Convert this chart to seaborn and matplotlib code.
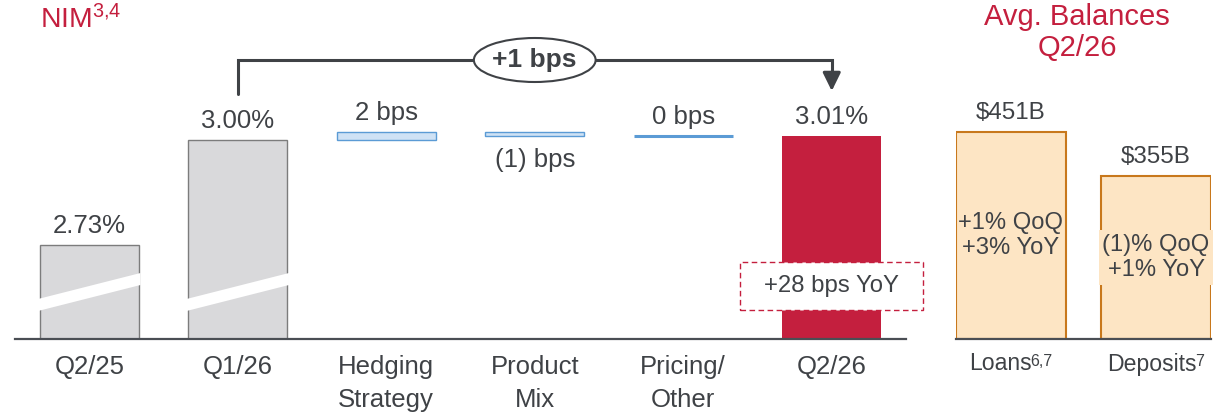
import matplotlib
matplotlib.use("Agg")
import matplotlib.pyplot as plt
import seaborn as sns
import pandas as pd
from matplotlib.patches import Ellipse, Rectangle, Polygon

sns.set_theme(style="white")
plt.rcParams["font.family"] = ["Liberation Sans", "DejaVu Sans"]
plt.rcParams["mathtext.fontset"] = "custom"
plt.rcParams["mathtext.rm"] = "Liberation Sans"
plt.rcParams["mathtext.it"] = "Liberation Sans:italic"
plt.rcParams["mathtext.bf"] = "Liberation Sans:bold"
plt.rcParams["mathtext.default"] = "regular"

# ---- NIM walk -------------------------------------------------------------
nim_categories = ["Q2/25", "Q1/26", "Hedging\nStrategy", "Product\nMix",
                  "Pricing/\nOther", "Q2/26"]
total_categories = ["Q2/25", "Q1/26", "Q2/26"]
total_values = [2.73, 3.00, 3.01]
total_labels = ["2.73%", "3.00%", "3.01%"]
step_categories = ["Hedging\nStrategy", "Product\nMix", "Pricing/\nOther"]
step_bps = [2, -1, 0]
step_labels = ["2 bps", "(1) bps", "0 bps"]
qoq_label = "+1 bps"
yoy_label = "+28 bps YoY"

# ---- Average balances -----------------------------------------------------
balance_categories = ["Loans", "Deposits"]
balance_footnotes = ["6,7", "7"]
balance_values = [451, 355]
balance_labels = ["$451B", "$355B"]
balance_growth = ["+1% QoQ\n+3% YoY", "(1)% QoQ\n+1% YoY"]
growth_boxed = [False, True]

# ---- Styling --------------------------------------------------------------
RED = "#C41F3E"
TEXT = "#3F4246"
GREY_FILL = "#D9D9DB"
GREY_EDGE = "#7C7C7C"
BLUE_FILL = "#CFE2F5"
BLUE_EDGE = "#5B9BD5"
ORANGE_FILL = "#FDE5C4"
ORANGE_EDGE = "#C8781C"
AXIS = "#4A4E54"

W, H = 1230, 412
BASE_PX = 338.5
fig = plt.figure(figsize=(W / 100, H / 100), dpi=100)

# Left panel: NIM waterfall
ax = fig.add_axes([15 / W, (H - BASE_PX) / H, 891 / W, BASE_PX / H])
ymin = 2.49
px_per_unit = 388.9
ax.set_ylim(ymin, ymin + BASE_PX / px_per_unit)
bar_w = 0.667

totals = pd.DataFrame({"period": total_categories, "nim": total_values})
palette = {"Q2/25": GREY_FILL, "Q1/26": GREY_FILL, "Q2/26": RED}
sns.barplot(data=totals, x="period", y="nim", order=nim_categories,
            hue="period", palette=palette, width=bar_w, saturation=1,
            legend=False, ax=ax, zorder=2)
for p in ax.patches:
    if p.get_facecolor()[:3] == matplotlib.colors.to_rgb(GREY_FILL):
        p.set_edgecolor(GREY_EDGE)
        p.set_linewidth(1.0)
    else:
        p.set_edgecolor("none")

def px(n):
    return n / px_per_unit

# bar value labels for the totals
for cat, val, lab in zip(total_categories, total_values, total_labels):
    xi = nim_categories.index(cat)
    ax.annotate(lab, (xi, val), xytext=(0, 19), textcoords="offset pixels",
                ha="center", va="center", fontsize=18.5, color=TEXT)

# axis-break bands on the first two bars
for cat in ["Q2/25", "Q1/26"]:
    xi = nim_categories.index(cat)
    xl, xr = xi - 0.345, xi + 0.345
    band = Polygon([(xl, ymin + px(27.5)), (xr, ymin + px(53.5)),
                    (xr, ymin + px(65.5)), (xl, ymin + px(39.5))],
                   closed=True, facecolor="white", edgecolor="none", zorder=3)
    ax.add_patch(band)

# floating steps
running = total_values[1]
for cat, bps, lab in zip(step_categories, step_bps, step_labels):
    xi = nim_categories.index(cat)
    delta = bps / 100
    if bps != 0:
        ax.bar(xi, delta, bottom=running, width=bar_w, color=BLUE_FILL,
               edgecolor=BLUE_EDGE, linewidth=1.0, zorder=2)
    else:
        ax.hlines(running, xi - bar_w / 2, xi + bar_w / 2, color=BLUE_EDGE,
                  linewidth=2.2, zorder=2)
    top = max(running, running + delta)
    bottom = min(running, running + delta)
    if bps >= 0:
        ax.annotate(lab, (xi, top), xytext=(0, 19), textcoords="offset pixels",
                    ha="center", va="center", fontsize=18.5, color=TEXT)
    else:
        ax.annotate(lab, (xi, bottom), xytext=(0, -24),
                    textcoords="offset pixels", ha="center", va="center",
                    fontsize=18.5, color=TEXT)
    running += delta

# QoQ bracket from Q1/26 to Q2/26
x_from = nim_categories.index("Q1/26")
x_to = nim_categories.index("Q2/26")
y_line = ymin + px(BASE_PX - 60)
ax.plot([x_from, x_from, x_to, x_to],
        [ymin + px(BASE_PX - 94), y_line, y_line, ymin + px(BASE_PX - 80)],
        color=TEXT, linewidth=2.2, solid_joinstyle="miter", clip_on=False,
        zorder=3)
ax.annotate("", xy=(x_to, ymin + px(BASE_PX - 91)),
            xytext=(x_to, ymin + px(BASE_PX - 72)),
            arrowprops=dict(arrowstyle="-|>,head_length=0.55,head_width=0.27",
                            mutation_scale=20, color=TEXT, linewidth=2.2,
                            shrinkA=0, shrinkB=0), zorder=3)
x_mid = (x_from + x_to) / 2
ax.add_patch(Ellipse((x_mid, y_line), 0.82, px(44), facecolor="white",
                     edgecolor=TEXT, linewidth=1.5, zorder=4, clip_on=False))
ax.text(x_mid, y_line, qoq_label, ha="center", va="center", fontsize=19,
        fontweight="bold", color=TEXT, zorder=5)

# YoY call-out box on the Q2/26 bar
box_w = 1.233
ax.add_patch(Rectangle((x_to - box_w / 2, ymin + px(BASE_PX - 310)), box_w,
                       px(48), facecolor="white", edgecolor=RED,
                       linestyle=(0, (4, 2.5)), linewidth=1.0, zorder=3,
                       clip_on=False))
ax.text(x_to, ymin + px(BASE_PX - 286), yoy_label, ha="center", va="center",
        fontsize=17.2, color=TEXT, zorder=4)

ax.set_xlim(-0.5, len(nim_categories) - 0.5)
ax.set_xticks(range(len(nim_categories)))
ax.set_xticklabels(nim_categories)
for t in ax.get_xticklabels():
    t.set_linespacing(1.45)
ax.tick_params(axis="x", length=0, pad=12, labelsize=18.5, labelcolor=TEXT)
ax.set_yticks([])
ax.set_xlabel("")
ax.set_ylabel("")
for s in ["top", "left", "right"]:
    ax.spines[s].set_visible(False)
ax.spines["bottom"].set_color(AXIS)
ax.spines["bottom"].set_linewidth(1.6)
ax.spines["bottom"].set_zorder(6)
ax.patch.set_alpha(0)

# Right panel: average balances
ax2 = fig.add_axes([955.7 / W, (H - BASE_PX) / H, 255.3 / W, BASE_PX / H])
bal_px_per_unit = 0.4568
ax2.set_ylim(0, BASE_PX / bal_px_per_unit)
bal_w = 0.757
sns.barplot(x=balance_categories, y=balance_values, width=bal_w,
            color=ORANGE_FILL, saturation=1, edgecolor=ORANGE_EDGE,
            linewidth=1.5, ax=ax2, zorder=2)
name_texts = []
for i, (cat, note, val, lab, growth, boxed) in enumerate(
        zip(balance_categories, balance_footnotes, balance_values,
            balance_labels, balance_growth, growth_boxed)):
    ax2.annotate(lab.replace("$", r"\$"), (i, val), xytext=(0, 19),
                 textcoords="offset pixels", ha="center", va="center",
                 fontsize=17.4, color=TEXT)
    box = (dict(boxstyle="square,pad=0.15", facecolor=ORANGE_FILL,
                edgecolor="none") if boxed else None)
    ax2.text(i, val / 2, growth, ha="center", va="center", fontsize=17.1,
             color=TEXT, zorder=3, bbox=box)
    # category name plus footnote marker under the bar, on a shared baseline
    main = ax2.annotate(cat, (i, 0), xycoords=("data", "axes fraction"),
                        xytext=(0, -32), textcoords="offset pixels",
                        ha="left", va="baseline", fontsize=16.6, color=TEXT,
                        annotation_clip=False)
    sup = ax2.annotate(note, (i, 0), xycoords=("data", "axes fraction"),
                       xytext=(0, -27), textcoords="offset pixels",
                       ha="left", va="baseline", fontsize=11.5, color=TEXT,
                       annotation_clip=False)
    name_texts.append((main, sup))

ax2.set_xlim(-bal_w / 2, len(balance_values) - 1 + bal_w / 2)
ax2.set_xticks([])
ax2.set_yticks([])
ax2.set_xlabel("")
ax2.set_ylabel("")
for s in ["top", "left", "right"]:
    ax2.spines[s].set_visible(False)
ax2.spines["bottom"].set_color(AXIS)
ax2.spines["bottom"].set_linewidth(1.6)
ax2.spines["bottom"].set_zorder(6)
ax2.patch.set_alpha(0)

# centre each name+footnote pair under its bar
fig.canvas.draw()
renderer = fig.canvas.get_renderer()
for main, sup in name_texts:
    wm = main.get_window_extent(renderer).width - 1.5
    ws = sup.get_window_extent(renderer).width
    start = -(wm + ws) / 2
    main.set_position((start, -32))
    sup.set_position((start + wm, -27))

# Panel titles
fig.text(40 / W, 1 - 20 / H, "NIM$^{3{,}4}$", ha="left", va="center",
         fontsize=20.4, color=RED)
fig.text(1077 / W, 1 - 32.5 / H, "Avg. Balances\nQ2/26", ha="center",
         va="center", fontsize=21, color=RED, linespacing=1.1)

fig.savefig("out.png", dpi=100)
